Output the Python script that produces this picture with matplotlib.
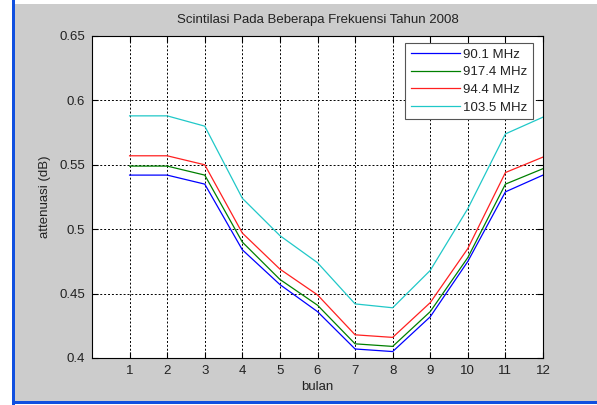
import matplotlib
matplotlib.use("Agg")
import matplotlib.pyplot as plt
from matplotlib.patches import Rectangle
from matplotlib.ticker import FixedLocator

plt.rcParams['font.family'] = ['Liberation Sans', 'DejaVu Sans']

bulan = [1, 2, 3, 4, 5, 6, 7, 8, 9, 10, 11, 12]
f_90_1 = [0.542, 0.542, 0.535, 0.484, 0.457, 0.436, 0.407, 0.405, 0.432, 0.475, 0.529, 0.542]
f_917_4 = [0.549, 0.549, 0.542, 0.490, 0.461, 0.441, 0.411, 0.409, 0.436, 0.478, 0.535, 0.547]
f_94_4 = [0.557, 0.557, 0.550, 0.497, 0.469, 0.449, 0.418, 0.416, 0.443, 0.485, 0.544, 0.556]
f_103_5 = [0.588, 0.588, 0.580, 0.524, 0.495, 0.474, 0.442, 0.439, 0.468, 0.516, 0.574, 0.587]
labels = ['90.1 MHz', '917.4 MHz', '94.4 MHz', '103.5 MHz']
colors = ['#0000ff', '#008000', '#ff2020', '#20c8c8']
yticks = [0.4, 0.45, 0.5, 0.55, 0.6, 0.65]
ytick_labels = ['0.4', '0.45', '0.5', '0.55', '0.6', '0.65']

fig = plt.figure(figsize=(5.97, 4.05), dpi=100)
fig.patch.set_facecolor('white')

# window-like background with blue frame on left and bottom
fig.patches.append(Rectangle((14 / 597, 4 / 405), 1 - 14 / 597, 1 - 8 / 405,
                             transform=fig.transFigure, facecolor='#cccccc',
                             edgecolor='none', zorder=-2))
fig.patches.append(Rectangle((12 / 597, 0), 2.5 / 597, 1,
                             transform=fig.transFigure, facecolor='#1050e0',
                             edgecolor='none', zorder=-1))
fig.patches.append(Rectangle((12 / 597, 1 / 405), 1 - 12 / 597, 3 / 405,
                             transform=fig.transFigure, facecolor='#1050e0',
                             edgecolor='none', zorder=-1))

ax = fig.add_axes([92 / 597, 1 - 358 / 405, (543 - 92) / 597, (358 - 36) / 405])
ax.set_facecolor('white')

for series, label, color in zip([f_90_1, f_917_4, f_94_4, f_103_5], labels, colors):
    ax.plot(bulan, series, color=color, linewidth=0.9, label=label)

ax.set_xlim(0, 12)
ax.set_ylim(0.4, 0.65)
ax.set_xticks(bulan)
ax.yaxis.set_major_locator(FixedLocator(yticks))
ax.set_yticklabels(ytick_labels)
ax.tick_params(direction='in', top=True, right=True, labelsize=9.5, length=4,
               width=0.8, colors='black', labelcolor='#222222', pad=5)
ax.grid(True, linestyle=(0, (2, 2)), color='black', linewidth=0.7)
for spine in ax.spines.values():
    spine.set_linewidth(0.8)

ax.set_xlabel('bulan', fontsize=9.5, labelpad=3, color='#222222')
ax.set_ylabel('attenuasi (dB)', fontsize=9.5, labelpad=6, color='#222222')
ax.set_title('Scintilasi Pada Beberapa Frekuensi Tahun 2008', fontsize=9.5,
             pad=9, color='#222222')

leg = ax.legend(loc='upper right', bbox_to_anchor=(1 - 10 / 451, 1 - 7 / 322),
                fontsize=9.5, fancybox=False, framealpha=1,
                edgecolor='#555555', borderaxespad=0, handlelength=3.7,
                labelspacing=0.42, borderpad=0.4, handletextpad=0.3)
leg.get_frame().set_linewidth(0.8)
for t in leg.get_texts():
    t.set_color('#222222')

fig.savefig('out.png', dpi=100)
